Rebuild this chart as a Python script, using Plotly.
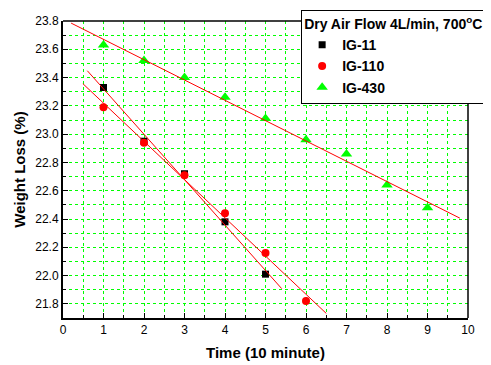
import numpy as np
import plotly.graph_objects as go

# ---- data ----
time_11 = [1, 2, 3, 4, 5]
loss_11 = [23.33, 22.95, 22.72, 22.38, 22.01]

time_110 = [1, 2, 3, 4, 5, 6]
loss_110 = [23.19, 22.94, 22.71, 22.44, 22.16, 21.82]

time_430 = [1, 2, 3, 4, 5, 6, 7, 8, 9]
loss_430 = [23.63, 23.52, 23.40, 23.26, 23.11, 22.96, 22.86, 22.64, 22.48]

series_names = ["IG-11", "IG-110", "IG-430"]
fit_ranges = [(0.6, 5.4), (0.49, 6.5), (0.2, 9.8)]

x_ticks = list(range(0, 11))
y_ticks = [21.8, 22.0, 22.2, 22.4, 22.6, 22.8, 23.0, 23.2, 23.4, 23.6, 23.8]

FONT = "Liberation Sans, Arial, sans-serif"

fig = go.Figure()

styles = [
    dict(symbol="square", color="black", size=7),
    dict(symbol="circle", color="#ff0000", size=8),
    dict(symbol="triangle-up", color="#00ff00", size=10),
]
datasets = [(time_11, loss_11), (time_110, loss_110), (time_430, loss_430)]

for (xs, ys), name, st in zip(datasets, series_names, styles):
    fig.add_trace(go.Scatter(
        x=xs, y=ys, mode="markers", name=name,
        marker=dict(symbol=st["symbol"], color=st["color"], size=st["size"],
                    line=dict(width=0)),
    ))

# linear fits
for (xs, ys), (x0, x1) in zip(datasets, fit_ranges):
    k, b = np.polyfit(xs, ys, 1)
    fx = [x0, x1]
    fy = [k * v + b for v in fx]
    fig.add_trace(go.Scatter(x=fx, y=fy, mode="lines", showlegend=False,
                             line=dict(color="#ff0000", width=1),
                             hoverinfo="skip"))

grid = dict(showgrid=True, gridcolor="#00ff00", griddash="dot", gridwidth=1)

# page body has an 8px margin, so the figure is sized 8px smaller
fig.update_layout(
    width=483, height=357,
    margin=dict(l=55, r=23, t=13, b=47, autoexpand=False),
    paper_bgcolor="white", plot_bgcolor="white",
    font=dict(family=FONT, size=12, color="black"),
    showlegend=True,
    legend=dict(
        x=0.588, y=1.037, xanchor="left", yanchor="top",
        bgcolor="white", bordercolor="black", borderwidth=1,
        font=dict(family=FONT, size=14, color="black", weight="bold"),
        title=dict(text="Dry Air Flow 4L/min, 700<sup>o</sup>C",
                   font=dict(family=FONT, size=14, color="black", weight="bold")),
        tracegroupgap=0, itemwidth=30,
    ),
    xaxis=dict(
        range=[0, 10], tickmode="array", tickvals=x_ticks,
        ticktext=[str(v) for v in x_ticks],
        showgrid=False, zeroline=False, automargin=False,
        showline=True, linecolor="black", linewidth=2,
        ticks="inside", ticklen=5, tickcolor="black", tickwidth=1,
        tickfont=dict(family=FONT, size=12, color="black"),
        minor=dict(dtick=0.5, tick0=0, ticks="inside", ticklen=3, tickcolor="black", **grid),
        title=dict(text="<b>Time (10 minute)</b>", font=dict(family=FONT, size=15), standoff=11),
    ),
    yaxis=dict(
        range=[21.7, 23.8], tickmode="array", tickvals=y_ticks,
        ticktext=[f"{v:.1f}" for v in y_ticks],
        showgrid=False, zeroline=False, automargin=False,
        showline=True, linecolor="black", linewidth=2,
        ticks="inside", ticklen=5, tickcolor="black", tickwidth=1,
        tickfont=dict(family=FONT, size=12, color="black"),
        minor=dict(dtick=0.1, tick0=21.7, ticks="inside", ticklen=3, tickcolor="black", **grid),
        title=dict(text="<b>Weight Loss (%)</b>", font=dict(family=FONT, size=15), standoff=6),
    ),
)

# thin top and right frame lines
fig.add_shape(type="line", xref="paper", yref="paper", x0=0, x1=1, y0=1, y1=1,
              line=dict(color="black", width=1.5))
fig.add_shape(type="line", xref="paper", yref="paper", x0=1, x1=1, y0=0, y1=1,
              line=dict(color="black", width=1.5))

fig.write_html("out.html")
